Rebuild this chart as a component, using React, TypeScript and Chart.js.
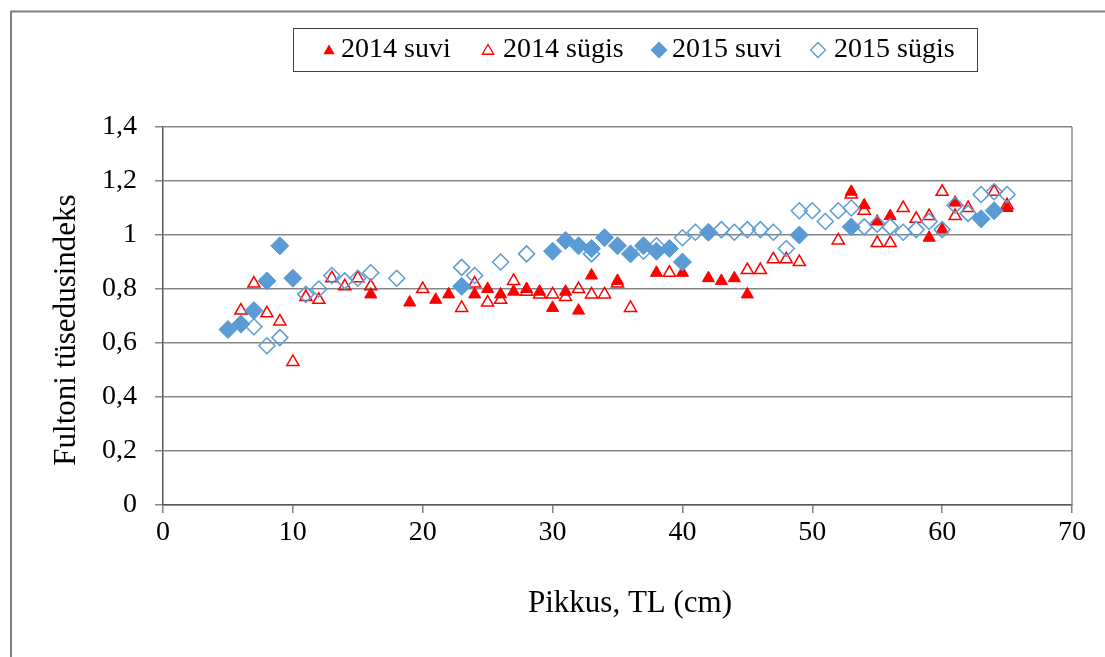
import React, { useEffect, useRef } from 'react';
import { Chart, registerables } from 'chart.js';

Chart.register(...registerables);

// ---- Data ----
const suvi2014X = [16, 19, 21, 22, 24, 25, 26, 27, 28, 29, 30, 31, 32, 33, 35, 38, 40, 42, 43, 44, 45, 53, 54, 55, 56, 59, 60, 61, 65];
const suvi2014Y = [0.78, 0.75, 0.76, 0.78, 0.78, 0.80, 0.78, 0.79, 0.80, 0.79, 0.73, 0.79, 0.72, 0.85, 0.83, 0.86, 0.86, 0.84, 0.83, 0.84, 0.78, 1.16, 1.11, 1.05, 1.07, 0.99, 1.02, 1.12, 1.10];

const sygis2014X = [6, 7, 8, 9, 10, 11, 12, 13, 14, 15, 16, 20, 23, 24, 25, 26, 27, 28, 29, 30, 31, 32, 33, 34, 35, 36, 39, 45, 46, 47, 48, 49, 52, 53, 54, 55, 56, 57, 58, 59, 60, 61, 62, 64, 65];
const sygis2014Y = [0.72, 0.82, 0.71, 0.68, 0.53, 0.77, 0.76, 0.84, 0.81, 0.84, 0.81, 0.80, 0.73, 0.82, 0.75, 0.76, 0.83, 0.79, 0.78, 0.78, 0.77, 0.80, 0.78, 0.78, 0.82, 0.73, 0.86, 0.87, 0.87, 0.91, 0.91, 0.90, 0.98, 1.15, 1.09, 0.97, 0.97, 1.10, 1.06, 1.07, 1.16, 1.07, 1.10, 1.16, 1.11];

const suvi2015X = [5, 6, 7, 8, 9, 10, 23, 30, 31, 32, 33, 34, 35, 36, 37, 38, 39, 40, 42, 49, 53, 63, 64];
const suvi2015Y = [0.65, 0.67, 0.72, 0.83, 0.96, 0.84, 0.81, 0.94, 0.98, 0.96, 0.95, 0.99, 0.96, 0.93, 0.96, 0.94, 0.95, 0.90, 1.01, 1.00, 1.03, 1.06, 1.09];

const sygis2015X = [7, 8, 9, 11, 12, 13, 14, 15, 16, 18, 23, 24, 26, 28, 33, 37, 38, 40, 41, 43, 44, 45, 46, 47, 48, 49, 50, 51, 52, 53, 54, 55, 56, 57, 58, 59, 60, 61, 62, 63, 64, 65];
const sygis2015Y = [0.66, 0.59, 0.62, 0.78, 0.80, 0.85, 0.83, 0.84, 0.86, 0.84, 0.88, 0.85, 0.90, 0.93, 0.93, 0.94, 0.96, 0.99, 1.01, 1.02, 1.01, 1.02, 1.02, 1.01, 0.95, 1.09, 1.09, 1.05, 1.09, 1.10, 1.03, 1.04, 1.03, 1.01, 1.02, 1.05, 1.02, 1.11, 1.08, 1.15, 1.16, 1.15];

const seriesNames = ['2014 suvi', '2014 sügis', '2015 suvi', '2015 sügis'];
const xTickValues = [0, 10, 20, 30, 40, 50, 60, 70];
const yTickValues = [0, 0.2, 0.4, 0.6, 0.8, 1, 1.2, 1.4];
const xTitle = 'Pikkus, TL (cm)';
const yTitle = 'Fultoni tüsedusindeks';

const RED = '#FF0000';
const BLUE = '#5B9BD5';
const FONT = '"Liberation Serif", "Times New Roman", serif';

function toPoints(xs: number[], ys: number[]) {
  return xs.map((x, i) => ({ x, y: ys[i] }));
}

function drawTriangle(ctx: CanvasRenderingContext2D, x: number, y: number, r: number, fill: boolean) {
  ctx.beginPath();
  for (let k = 0; k < 3; k++) {
    const a = (k * 2 * Math.PI) / 3;
    const px = x + Math.sin(a) * r;
    const py = y - Math.cos(a) * r;
    if (k === 0) ctx.moveTo(px, py);
    else ctx.lineTo(px, py);
  }
  ctx.closePath();
  if (fill) {
    ctx.fillStyle = RED;
    ctx.fill();
  } else {
    ctx.strokeStyle = RED;
    ctx.lineWidth = 1.3;
    ctx.stroke();
  }
}

function drawDiamond(ctx: CanvasRenderingContext2D, x: number, y: number, r: number, fill: boolean) {
  ctx.beginPath();
  ctx.moveTo(x, y - r);
  ctx.lineTo(x + r, y);
  ctx.lineTo(x, y + r);
  ctx.lineTo(x - r, y);
  ctx.closePath();
  if (fill) {
    ctx.fillStyle = BLUE;
    ctx.fill();
  } else {
    ctx.strokeStyle = BLUE;
    ctx.lineWidth = 1.3;
    ctx.stroke();
  }
}

const decorPlugin = {
  id: 'decor',
  beforeDraw(chart: any) {
    const ctx = chart.ctx as CanvasRenderingContext2D;
    ctx.save();
    ctx.fillStyle = '#ffffff';
    ctx.fillRect(0, 0, chart.width, chart.height);
    // outer frame (left + top edges visible)
    ctx.strokeStyle = '#7f7f7f';
    ctx.lineWidth = 2;
    ctx.beginPath();
    ctx.moveTo(11, chart.height);
    ctx.lineTo(11, 11.5);
    ctx.lineTo(chart.width, 11.5);
    ctx.stroke();
    ctx.restore();
  },
  afterDraw(chart: any) {
    const ctx = chart.ctx as CanvasRenderingContext2D;
    const area = chart.chartArea;
    ctx.save();
    // plot area right border
    ctx.strokeStyle = '#868686';
    ctx.lineWidth = 1.5;
    ctx.beginPath();
    ctx.moveTo(area.right, area.top);
    ctx.lineTo(area.right, area.bottom);
    ctx.stroke();

    // legend box
    ctx.strokeStyle = '#404040';
    ctx.lineWidth = 1;
    ctx.strokeRect(293.5, 28.5, 684, 43);
    ctx.font = `28px ${FONT}`;
    ctx.fillStyle = '#000';
    ctx.textBaseline = 'middle';
    ctx.textAlign = 'left';
    const markerX = [329, 488, 659, 818];
    const textX = [341, 503, 672, 834];
    const ly = 50;
    drawTriangle(ctx, markerX[0], ly + 1, 6.5, true);
    drawTriangle(ctx, markerX[1], ly + 1, 6.5, false);
    drawDiamond(ctx, markerX[2], ly, 8.5, true);
    drawDiamond(ctx, markerX[3], ly, 7.5, false);
    ctx.fillStyle = '#000';
    seriesNames.forEach((n, i) => ctx.fillText(n, textX[i], ly));

    // axis titles
    ctx.font = `31px ${FONT}`;
    ctx.textAlign = 'center';
    ctx.fillText(xTitle, 630, 604);
    ctx.translate(67, 330);
    ctx.rotate(-Math.PI / 2);
    ctx.fillText(yTitle, 0, 0);
    ctx.restore();
  },
};

export default function App() {
  const ref = useRef<HTMLCanvasElement | null>(null);

  useEffect(() => {
    if (!ref.current) return;
    const chart = new Chart(ref.current, {
      type: 'scatter',
      data: {
        datasets: [
          {
            label: seriesNames[0],
            data: toPoints(suvi2014X, suvi2014Y),
            pointStyle: 'triangle',
            pointRadius: 7,
            backgroundColor: RED,
            borderColor: RED,
            borderWidth: 1,
            order: 4,
          },
          {
            label: seriesNames[1],
            data: toPoints(sygis2014X, sygis2014Y),
            pointStyle: 'triangle',
            pointRadius: 7,
            backgroundColor: 'rgba(0,0,0,0)',
            borderColor: RED,
            borderWidth: 1.5,
            order: 3,
          },
          {
            label: seriesNames[2],
            data: toPoints(suvi2015X, suvi2015Y),
            pointStyle: 'rectRot',
            pointRadius: 9,
            backgroundColor: BLUE,
            borderColor: BLUE,
            borderWidth: 1,
            order: 2,
          },
          {
            label: seriesNames[3],
            data: toPoints(sygis2015X, sygis2015Y),
            pointStyle: 'rectRot',
            pointRadius: 8,
            backgroundColor: 'rgba(0,0,0,0)',
            borderColor: BLUE,
            borderWidth: 1.5,
            order: 1,
          },
        ],
      },
      options: {
        responsive: false,
        animation: false,
        events: [],
        layout: { padding: { left: 0, top: 127, right: 33, bottom: 0 } },
        plugins: {
          legend: { display: false },
          tooltip: { enabled: false },
          title: { display: false },
        },
        scales: {
          x: {
            type: 'linear',
            min: 0,
            max: 70,
            afterBuildTicks: (s: any) => {
              s.ticks = xTickValues.map((v) => ({ value: v }));
            },
            afterFit: (s: any) => {
              s.height = 657 - 505;
            },
            grid: {
              drawOnChartArea: false,
              drawTicks: true,
              tickLength: 8,
              color: '#808080',
              lineWidth: 1.5,
            },
            border: { color: '#595959', width: 1.5 },
            ticks: {
              color: '#000',
              font: { family: FONT, size: 28 },
              padding: 3,
              maxRotation: 0,
              autoSkip: false,
            },
          },
          y: {
            type: 'linear',
            min: 0,
            max: 1.4,
            afterBuildTicks: (s: any) => {
              s.ticks = yTickValues.map((v) => ({ value: v }));
            },
            afterFit: (s: any) => {
              s.width = 163;
            },
            grid: {
              drawTicks: true,
              tickLength: 8,
              color: '#868686',
              lineWidth: 1.5,
            },
            border: { color: '#595959', width: 1.5 },
            ticks: {
              color: '#000',
              font: { family: FONT, size: 28 },
              padding: 18,
              autoSkip: false,
              callback: (v: any) => String(Math.round(Number(v) * 10) / 10).replace('.', ','),
            },
          },
        },
      },
      plugins: [decorPlugin],
    });
    return () => chart.destroy();
  }, []);

  return (
    <canvas
      ref={ref}
      width={1105}
      height={657}
      style={{ position: 'absolute', left: 0, top: 0, width: 1105, height: 657, display: 'block' }}
    />
  );
}
